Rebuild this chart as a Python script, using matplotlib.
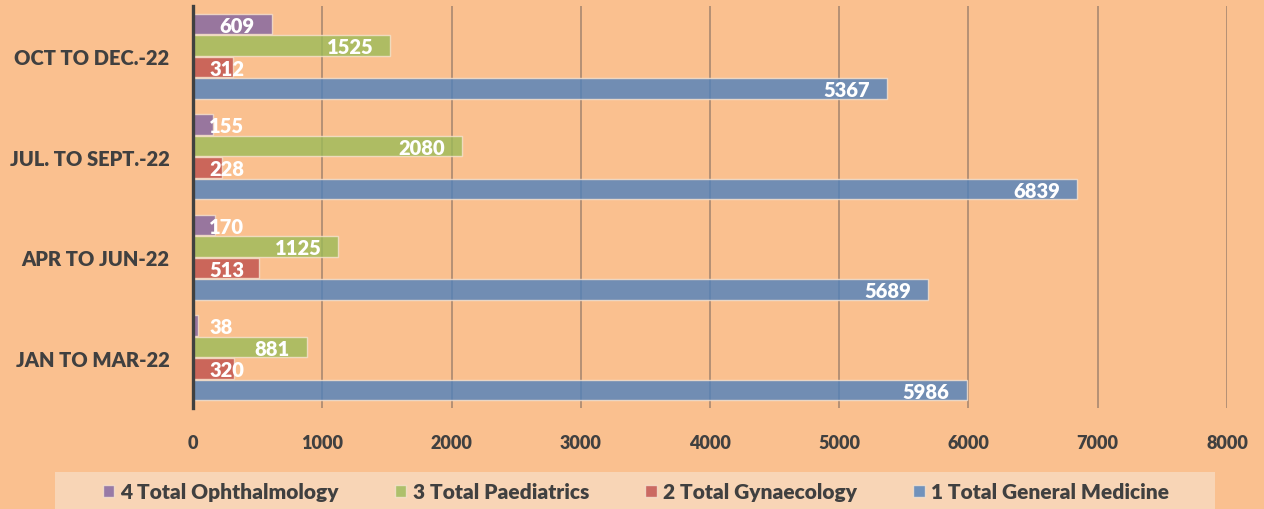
import numpy as np
import matplotlib.pyplot as plt
from matplotlib.patches import Patch, Rectangle

quarters = ["JAN TO MAR-22", "APR TO JUN-22", "JUL. TO SEPT.-22", "OCT TO DEC.-22"]
general_medicine = [5986, 5689, 6839, 5367]
gynaecology = [320, 513, 228, 312]
paediatrics = [881, 1125, 2080, 1525]
ophthalmology = [38, 170, 155, 609]

series = [
    ("1 Total General Medicine", general_medicine, "#4F81BD"),
    ("2 Total Gynaecology", gynaecology, "#C0504D"),
    ("3 Total Paediatrics", paediatrics, "#9BBB59"),
    ("4 Total Ophthalmology", ophthalmology, "#8064A2"),
]

bg = "#FAC08F"
txt = "#404040"
plt.rcParams["font.family"] = ["Lato", "DejaVu Sans"]
plt.rcParams["font.weight"] = "bold"

fig = plt.figure(figsize=(12.64, 5.10), dpi=100, facecolor=bg)
ax = fig.add_axes([0.1527, 0.198, 0.818, 0.7882], facecolor=bg)

y = np.arange(len(quarters))
step = 0.214
height = 0.2

labels = []
for i, (name, vals, col) in enumerate(series):
    pos = y + (i - 1.5) * step
    ax.barh(pos, vals, height=height, color=col, alpha=0.8,
            edgecolor="#F7E3CF", linewidth=1, zorder=3)
    for p, v in zip(pos, vals):
        t = ax.annotate(str(v), xy=(v, p), xytext=(-17, -1), textcoords="offset pixels",
                        ha="right", va="center", color="white", fontsize=14.5,
                        fontweight="heavy", zorder=5)
        labels.append((t, p))

ax.set_xlim(0, 8000)
ax.set_ylim(-0.5, 3.5)
ax.set_xticks(np.arange(0, 8001, 1000))
ax.set_yticks(y)
ax.set_yticklabels(quarters)
ax.tick_params(axis="x", length=0, pad=19, labelsize=13, colors=txt)
ax.tick_params(axis="y", length=0, pad=17, labelsize=14.5, colors=txt)
for lab in ax.get_xticklabels() + ax.get_yticklabels():
    lab.set_fontweight("heavy")

ax.grid(axis="x", color="#A98870", linewidth=1.2, zorder=1)
for s in ["top", "right", "bottom"]:
    ax.spines[s].set_visible(False)
ax.spines["left"].set_color(txt)
ax.spines["left"].set_linewidth(2.4)
ax.spines["left"].set_zorder(6)

# labels that do not fit go to the start of the bar
fig.canvas.draw()
x0_px = ax.transData.transform((0, 0))[0]
for t, p in labels:
    bb = t.get_window_extent()
    if bb.x0 < x0_px + 16:
        t.xy = (0, p)
        t.set_position((16, -1))
        t.set_ha("left")

# legend band
fig.patches.append(Rectangle((0.0435, 0.0), 0.9177, 0.0725, transform=fig.transFigure,
                             facecolor="#F8D5B6", edgecolor="none", zorder=0))
handles = [Patch(facecolor=col, alpha=0.8, edgecolor="#F7E3CF", label=name)
           for name, vals, col in series[::-1]]
leg = fig.legend(handles=handles, loc="center", ncol=4,
                 bbox_to_anchor=(0.503, 0.034), frameon=False, fontsize=15,
                 handlelength=0.55, handleheight=0.55, handletextpad=0.3,
                 columnspacing=2.7)
for t in leg.get_texts():
    t.set_color(txt)
    t.set_fontweight("heavy")

plt.savefig("out.png", dpi=100, facecolor=bg)
